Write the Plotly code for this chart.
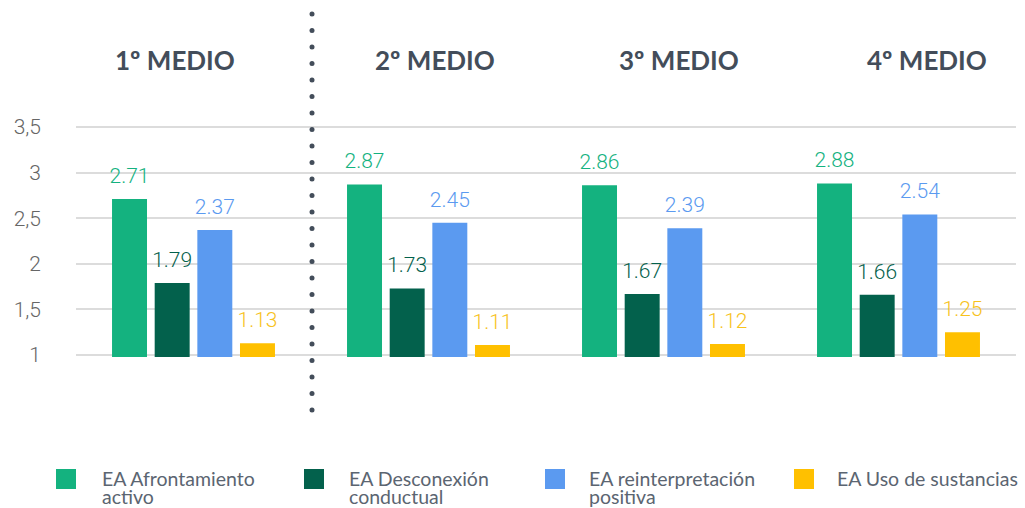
import plotly.graph_objects as go

# ---------------- data ----------------
grades = ["1º MEDIO", "2º MEDIO", "3º MEDIO", "4º MEDIO"]
series_names = ["EA Afrontamiento activo", "EA Desconexión conductual",
                "EA reinterpretación positiva", "EA Uso de sustancias"]
legend_lines = [["EA Afrontamiento", "activo"], ["EA Desconexión", "conductual"],
                ["EA reinterpretación", "positiva"], ["EA Uso de sustancias"]]
afrontamiento = [2.71, 2.87, 2.86, 2.88]
desconexion = [1.79, 1.73, 1.67, 1.66]
reinterpretacion = [2.37, 2.45, 2.39, 2.54]
sustancias = [1.13, 1.11, 1.12, 1.25]
series_values = [afrontamiento, desconexion, reinterpretacion, sustancias]
y_ticks = [1, 1.5, 2, 2.5, 3, 3.5]
y_tick_labels = ["1", "1,5", "2", "2,5", "3", "3,5"]

# ---------------- style ----------------
bar_colors = ["#14b27f", "#03614c", "#5b9af0", "#ffc000"]
label_colors = ["#14b27f", "#03614c", "#5b9af0", "#f7c21c"]
W, H = 1025, 508
ML, MR, MT, MB = 76, 9, 125, 151
PW, PH = W - ML - MR, H - MT - MB
Y_RANGE = [0.978, 3.522]


def X(px):
    return (px - ML) / PW


def Y(py):
    return (H - MB - py) / PH


fig = go.Figure()
for i, (name, vals) in enumerate(zip(series_names, series_values)):
    fig.add_trace(go.Bar(
        x=grades, y=vals, name=name, offsetgroup=str(i), base=0,
        marker=dict(color=bar_colors[i], line=dict(width=0)),
        showlegend=False,
    ))
for i, (name, vals) in enumerate(zip(series_names, series_values)):
    fig.add_trace(go.Scatter(
        x=grades, y=vals, mode="markers+text", offsetgroup=str(i),
        text=[f"{v:.2f}" for v in vals], textposition="top center",
        textfont=dict(family="Roboto, sans-serif", size=21, weight=300,
                      color=label_colors[i]),
        marker=dict(size=16, opacity=0), cliponaxis=False,
        showlegend=False, hoverinfo="skip",
    ))

# headers
header_px = [175, 435, 679, 927]
for g, px in zip(grades, header_px):
    fig.add_annotation(x=X(px), y=Y(60), xref="paper", yref="paper",
                       text=f"<b>{g}</b>", showarrow=False,
                       xanchor="center", yanchor="middle",
                       font=dict(family="Lato, sans-serif", size=26, color="#434d5a"))

# dotted separator
py = 14
while py <= 410:
    fig.add_shape(type="circle", xref="paper", yref="paper",
                  x0=X(312 - 2.5), x1=X(312 + 2.5), y0=Y(py + 2.5), y1=Y(py - 2.5),
                  fillcolor="#434d5a", line=dict(width=0), layer="above")
    py += 16.5

# manual legend
marker_px = [56, 304, 545, 794]
text_px = [100, 347, 587, 835]
for i in range(4):
    fig.add_shape(type="rect", xref="paper", yref="paper",
                  x0=X(marker_px[i]), x1=X(marker_px[i] + 20), y0=Y(489), y1=Y(469),
                  fillcolor=bar_colors[i], line=dict(width=0))
    for j, line in enumerate(legend_lines[i]):
        fig.add_annotation(x=X(text_px[i]), y=Y(478 + 18 * j), xref="paper", yref="paper",
                           text=line, showarrow=False, xanchor="left", yanchor="middle",
                           font=dict(family="Lato, sans-serif", size=19.5, color="#5b6571"))

fig.update_layout(
    width=W, height=H,
    margin=dict(l=ML, r=MR, t=MT, b=MB, pad=0),
    paper_bgcolor="white", plot_bgcolor="white",
    barmode="group", bargap=0.274, bargroupgap=0.18,
    scattermode="group", scattergap=0.274,
    showlegend=False,
    xaxis=dict(showticklabels=False, showgrid=False, zeroline=False, showline=False,
               ticks=""),
    yaxis=dict(range=Y_RANGE, tickvals=y_ticks, ticktext=y_tick_labels,
               showgrid=True, gridcolor="#dcdcdc", gridwidth=2, zeroline=False,
               showline=False, ticks="", ticklabelstandoff=34,
               tickfont=dict(family="Roboto, sans-serif", size=21, color="#666666",
                             weight=300)),
)

fig.write_html("out.html", config={"displayModeBar": False},
               post_script="document.body.style.margin='0px';")
